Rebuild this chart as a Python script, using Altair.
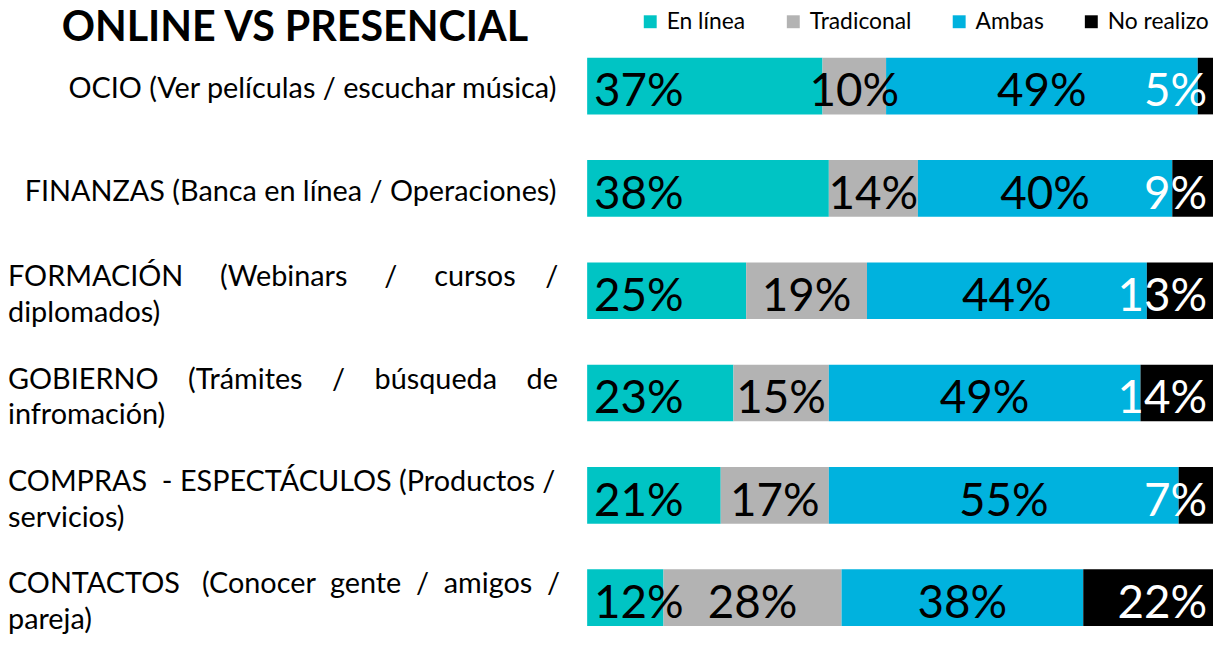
import altair as alt
import pandas as pd

# ---- data ----
categories = [
    "OCIO (Ver películas / escuchar música)",
    "FINANZAS (Banca en línea / Operaciones)",
    "FORMACIÓN (Webinars / cursos /\ndiplomados)",
    "GOBIERNO (Trámites / búsqueda de\ninfromación)",
    "COMPRAS - ESPECTÁCULOS (Productos /\nservicios)",
    "CONTACTOS (Conocer gente / amigos /\npareja)",
]
series = ["En línea", "Tradiconal", "Ambas", "No realizo"]
en_linea = [37, 38, 25, 23, 21, 12]
tradicional = [10, 14, 19, 15, 17, 28]
ambas = [49, 40, 44, 49, 55, 38]
no_realizo = [5, 9, 13, 14, 7, 22]
colors = ["#00C4C4", "#B3B3B3", "#00B2DE", "#000000"]
title_text = "ONLINE VS PRESENCIAL"

# total extra non-breaking spaces spread over the word gaps of the first line,
# to imitate the justified text of the reference
justify_extra = [0, 0, 15, 12, 1, 6]

FONT = "Lato"
XMAX = 98.4  # the reference crops the bars at the right edge

rows = []
for i, cat in enumerate(categories):
    vals = [en_linea[i], tradicional[i], ambas[i], no_realizo[i]]
    start = 0
    for j, s in enumerate(series):
        v = vals[j]
        if j == 0:
            role, pos = "first", start
        elif j == len(series) - 1:
            role, pos = "last", XMAX
        else:
            role, pos = "mid", start + v / 2
        rows.append(dict(cat=cat, serie=s, orden=j, inicio=start,
                         fin=min(start + v, XMAX),  # cropped at the visible edge
                         etiqueta=f"{v}%", role=role, pos=pos))
        start += v
df = pd.DataFrame(rows)


def display_label(cat, extra):
    lines = cat.split("\n")
    if len(lines) > 1 and extra > 0:
        words = lines[0].split(" ")
        gaps = len(words) - 1
        out = words[0]
        for g in range(gaps):
            k = extra // gaps + (1 if g < extra % gaps else 0)
            out += " " + "\u00a0" * k + words[g + 1]
        lines[0] = out
    return "\n".join(lines)


lab = pd.DataFrame({
    "cat": categories,
    "txt": [display_label(c, e) for c, e in zip(categories, justify_extra)],
    "multi": ["\n" in c for c in categories],
})

y_enc = alt.Y("cat:N", sort=categories,
              scale=alt.Scale(paddingInner=0.4466, paddingOuter=0.1068),
              axis=None)
x_scale = alt.Scale(domain=[0, XMAX], nice=False, zero=False)

base = alt.Chart(df)

bars = base.mark_bar().encode(
    y=y_enc,
    x=alt.X("inicio:Q", scale=x_scale, axis=None),
    x2="fin:Q",
    color=alt.Color("serie:N", scale=alt.Scale(domain=series, range=colors),
                    legend=alt.Legend(title=None, orient="none", legendX=52, legendY=-37,
                                      direction="horizontal", symbolType="square",
                                      symbolSize=169, symbolStrokeWidth=0,
                                      labelFont=FONT, labelFontSize=23, labelColor="black",
                                      columnPadding=36, labelOffset=5)),
    order=alt.Order("orden:Q"),
)


def pct_layer(role, align, dx, color):
    return base.transform_filter(alt.datum.role == role).mark_text(
        align=align, dx=dx, baseline="middle", dy=6.5, font=FONT, fontSize=46, color=color
    ).encode(y=y_enc, x=alt.X("pos:Q", scale=x_scale, axis=None), text="etiqueta:N")


t_first = pct_layer("first", "left", 7, "black")
t_mid = pct_layer("mid", "center", 0, "black")
t_last = pct_layer("last", "right", -6, "white")

labels_single = alt.Chart(lab).transform_filter(~alt.datum.multi).mark_text(
    align="right", baseline="middle", dy=3.5, font=FONT, fontSize=29, color="black"
).encode(y=y_enc, x=alt.value(-31), text="txt:N")

labels_multi = alt.Chart(lab).transform_filter(alt.datum.multi).mark_text(
    align="left", baseline="middle", dy=-13.5, font=FONT, fontSize=29, color="black",
    lineBreak="\n", lineHeight=36
).encode(y=y_enc, x=alt.value(-583), text="txt:N")

title = alt.Chart(pd.DataFrame({"t": [title_text]})).mark_text(
    align="left", baseline="top", font=FONT, fontSize=41.5, fontWeight="bold",
    color="black"
).encode(x=alt.value(-529), y=alt.value(-39), text="t:N")

chart = alt.layer(bars, t_first, t_mid, t_last, labels_single, labels_multi, title).properties(
    width=1213, height=594,
    autosize=alt.AutoSizeParams(type="fit-x", contains="padding"),
    padding={"left": 0, "top": -2, "right": 0, "bottom": 0},
    background="white",
).configure_view(stroke=None)

chart.save("out.html", embed_options={"renderer": "svg", "actions": False})
